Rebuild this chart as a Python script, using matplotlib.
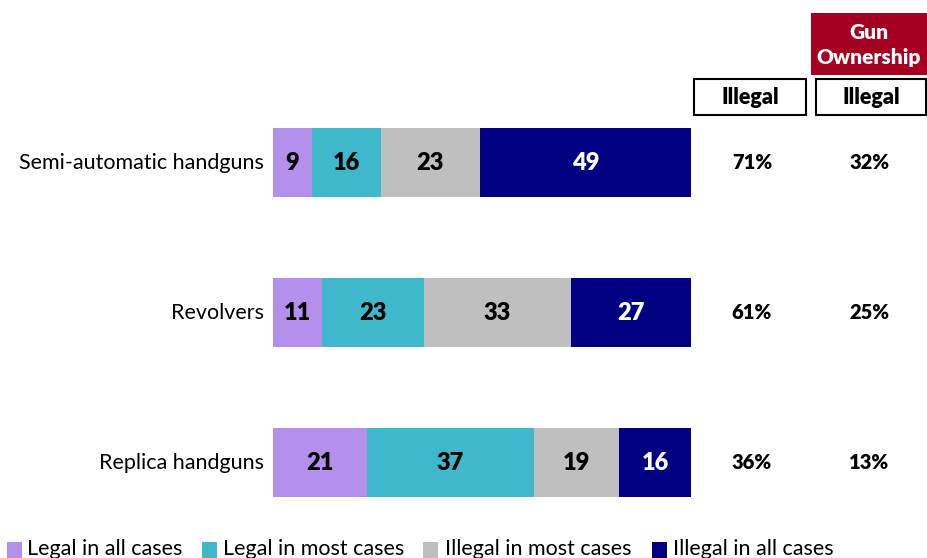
import matplotlib
matplotlib.use("Agg")
import matplotlib.pyplot as plt
from matplotlib.patches import Rectangle

plt.rcParams['font.family'] = ['Lato', 'DejaVu Sans']

categories = ['Semi-automatic handguns', 'Revolvers', 'Replica handguns']
series = ['Legal in all cases', 'Legal in most cases', 'Illegal in most cases', 'Illegal in all cases']
values = [
    [9, 16, 23, 49],
    [11, 23, 33, 27],
    [21, 37, 19, 16],
]
colors = ['#B490EC', '#3FB8CC', '#BFBFBF', '#000080']
label_colors = ['black', 'black', 'black', 'white']
illegal_total = ['71%', '61%', '36%']
gun_owner_illegal = ['32%', '25%', '13%']

W, H = 927, 558
fig = plt.figure(figsize=(W / 100, H / 100), dpi=100)


def fx(px):
    return px / W


def fy(py):
    return 1 - py / H


ax = fig.add_axes([fx(273), fy(538), fx(691) - fx(273), fy(87.5) - fy(538)])
ax.set_xlim(0, 1)
ax.set_ylim(2.5, -0.5)
ax.axis('off')

for i, row in enumerate(values):
    total = sum(row)
    left = 0
    for j, v in enumerate(row):
        w = v / total
        ax.barh(i, w, left=left, height=0.46, color=colors[j], edgecolor='none')
        ax.text(left + w / 2, i, str(v), ha='center', va='center',
                fontsize=17, fontweight='heavy', color=label_colors[j])
        left += w
    ax.text(-0.022, i, categories[i], ha='right', va='center', fontsize=15.5,
            transform=ax.get_yaxis_transform())
    ax.text((752 - 273) / 418, i, illegal_total[i], ha='center', va='center',
            fontsize=14.5, fontweight='heavy', transform=ax.get_yaxis_transform())
    ax.text((869 - 273) / 418, i, gun_owner_illegal[i], ha='center', va='center',
            fontsize=14.5, fontweight='heavy', transform=ax.get_yaxis_transform())

# column headers
for x0, x1 in [(694, 806), (816, 926)]:
    fig.patches.append(Rectangle((fx(x0), fy(115)), fx(x1) - fx(x0), fy(79) - fy(115),
                                 transform=fig.transFigure, facecolor='white',
                                 edgecolor='black', linewidth=1.5))
    fig.text(fx((x0 + x1) / 2), fy(97), 'Illegal', ha='center', va='center',
             fontsize=15.5, fontweight='heavy')
fig.patches.append(Rectangle((fx(811), fy(75)), fx(927) - fx(811), fy(13) - fy(75),
                             transform=fig.transFigure, facecolor='#A50021', edgecolor='none'))
fig.text(fx(869), fy(45), 'Gun\nOwnership', ha='center', va='center', fontsize=15,
         fontweight='heavy', color='white', linespacing=1.35)

# legend
for x_sq, x_txt, c, name in zip([7, 202, 423, 652], [27, 223, 445, 673], colors, series):
    fig.patches.append(Rectangle((fx(x_sq), fy(558)), fx(15), fy(542) - fy(558),
                                 transform=fig.transFigure, facecolor=c, edgecolor='none'))
    fig.text(fx(x_txt), fy(549), name, ha='left', va='center', fontsize=15.5)

fig.savefig('out.png', dpi=100)
